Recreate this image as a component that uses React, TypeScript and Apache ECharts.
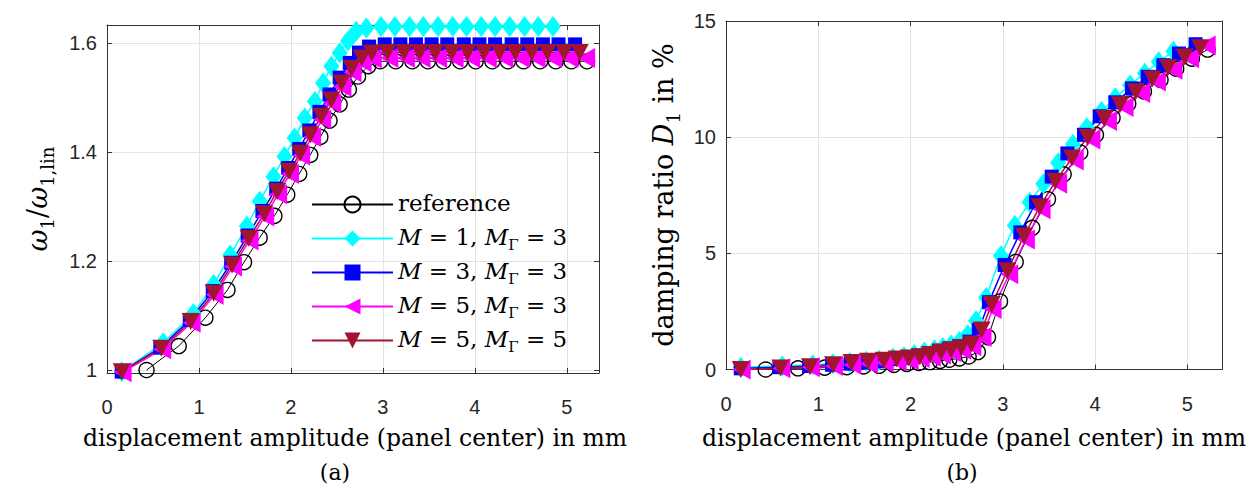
import React, { useEffect, useRef } from 'react';
import * as echarts from 'echarts';

const seriesLabels = ['reference', 'M = 1, MΓ = 3', 'M = 3, MΓ = 3', 'M = 5, MΓ = 3', 'M = 5, MΓ = 5'];
const xTicks = [0, 1, 2, 3, 4, 5];
const freqTicks = [1, 1.2, 1.4, 1.6];
const dampTicks = [0, 5, 10, 15];

const refX = [0.43, 0.78, 1.07, 1.31, 1.49, 1.66, 1.82, 1.96, 2.09, 2.21, 2.32, 2.42, 2.53, 2.63, 2.73, 2.84, 2.97, 3.14, 3.32, 3.49, 3.66, 3.84, 4.01, 4.19, 4.36, 4.53, 4.71, 4.88, 5.05, 5.22];
const refFreq = [1.0, 1.044, 1.096, 1.147, 1.198, 1.243, 1.283, 1.322, 1.36, 1.395, 1.428, 1.458, 1.488, 1.515, 1.539, 1.558, 1.567, 1.567, 1.567, 1.567, 1.567, 1.567, 1.567, 1.567, 1.567, 1.567, 1.567, 1.567, 1.567, 1.567];
const refDamp = [0.0, 0.05, 0.08, 0.1, 0.13, 0.16, 0.2, 0.24, 0.28, 0.32, 0.37, 0.42, 0.48, 0.56, 0.75, 1.39, 2.93, 4.63, 6.1, 7.33, 8.4, 9.34, 10.1, 10.84, 11.44, 11.97, 12.47, 12.95, 13.38, 13.77];

const m1X = [0.16, 0.61, 0.94, 1.16, 1.34, 1.52, 1.66, 1.81, 1.93, 2.04, 2.15, 2.26, 2.35, 2.44, 2.53, 2.62, 2.71, 2.82, 2.98, 3.13, 3.29, 3.44, 3.6, 3.76, 3.91, 4.07, 4.22, 4.38, 4.54, 4.69, 4.85];
const m1Freq = [0.997, 1.05, 1.104, 1.157, 1.211, 1.264, 1.31, 1.355, 1.392, 1.426, 1.463, 1.493, 1.527, 1.558, 1.582, 1.604, 1.622, 1.628, 1.631, 1.631, 1.631, 1.631, 1.631, 1.631, 1.631, 1.631, 1.631, 1.631, 1.631, 1.631, 1.631];
const m1Damp = [0.1, 0.15, 0.2, 0.25, 0.3, 0.35, 0.4, 0.5, 0.55, 0.65, 0.75, 0.85, 0.95, 1.05, 1.2, 1.5, 2.1, 3.1, 4.9, 6.2, 7.2, 8.0, 8.9, 9.7, 10.4, 11.1, 11.7, 12.25, 12.75, 13.25, 13.7];

const m3X = [0.16, 0.58, 0.9, 1.15, 1.35, 1.53, 1.69, 1.84, 1.97, 2.09, 2.2, 2.31, 2.42, 2.53, 2.64, 2.74, 2.85, 3.02, 3.19, 3.36, 3.53, 3.7, 3.88, 4.05, 4.22, 4.4, 4.57, 4.74, 4.91, 5.09];
const m3Freq = [0.997, 1.041, 1.092, 1.145, 1.197, 1.247, 1.292, 1.333, 1.371, 1.406, 1.44, 1.474, 1.506, 1.537, 1.564, 1.583, 1.594, 1.598, 1.598, 1.598, 1.598, 1.598, 1.598, 1.598, 1.598, 1.598, 1.598, 1.598, 1.598, 1.598];
const m3Damp = [0.05, 0.1, 0.15, 0.2, 0.25, 0.3, 0.35, 0.45, 0.5, 0.6, 0.7, 0.8, 0.9, 1.0, 1.2, 1.7, 2.9, 4.5, 5.9, 7.2, 8.3, 9.3, 10.1, 10.9, 11.5, 12.1, 12.6, 13.1, 13.6, 14.0];

const m5aX = [0.17, 0.6, 0.92, 1.17, 1.37, 1.55, 1.72, 1.86, 1.99, 2.11, 2.23, 2.34, 2.45, 2.56, 2.67, 2.78, 2.89, 3.07, 3.25, 3.42, 3.6, 3.78, 3.96, 4.14, 4.32, 4.5, 4.67, 4.85, 5.03, 5.21];
const m5aFreq = [0.996, 1.038, 1.087, 1.138, 1.19, 1.238, 1.282, 1.323, 1.36, 1.394, 1.428, 1.46, 1.49, 1.52, 1.547, 1.565, 1.572, 1.573, 1.573, 1.573, 1.573, 1.573, 1.573, 1.573, 1.573, 1.573, 1.573, 1.573, 1.573, 1.573];
const m5aDamp = [0.0, 0.05, 0.1, 0.15, 0.2, 0.25, 0.3, 0.35, 0.4, 0.5, 0.55, 0.65, 0.75, 0.85, 1.0, 1.4, 2.6, 4.1, 5.6, 6.9, 8.0, 9.0, 9.9, 10.7, 11.3, 11.9, 12.4, 12.9, 13.4, 13.95];

const m5bX = [0.16, 0.59, 0.91, 1.16, 1.36, 1.54, 1.71, 1.85, 1.98, 2.1, 2.21, 2.33, 2.44, 2.55, 2.66, 2.77, 2.88, 3.05, 3.23, 3.4, 3.57, 3.75, 3.92, 4.1, 4.27, 4.44, 4.62, 4.79, 4.97, 5.14];
const m5bFreq = [0.997, 1.04, 1.089, 1.141, 1.193, 1.242, 1.287, 1.328, 1.365, 1.398, 1.432, 1.466, 1.496, 1.527, 1.554, 1.573, 1.582, 1.583, 1.583, 1.583, 1.583, 1.583, 1.583, 1.583, 1.583, 1.583, 1.583, 1.583, 1.583, 1.583];
const m5bDamp = [0.0, 0.06, 0.12, 0.2, 0.3, 0.35, 0.4, 0.45, 0.5, 0.55, 0.65, 0.75, 0.85, 0.95, 1.1, 1.7, 2.8, 4.25, 5.75, 7.0, 8.1, 9.1, 10.0, 10.8, 11.4, 11.95, 12.5, 13.0, 13.45, 13.85];

const allX = [refX, m1X, m3X, m5aX, m5bX];
const allFreq = [refFreq, m1Freq, m3Freq, m5aFreq, m5bFreq];
const allDamp = [refDamp, m1Damp, m3Damp, m5aDamp, m5bDamp];

const SERIF = '"DejaVu Serif", serif';
const SANS = '"Liberation Sans", Arial, sans-serif';
const AX = '#333333';
const GRIDC = '#e3e3e3';

const looks = [
  { color: '#000000', symbol: 'circle', size: 15, rotate: 0, fill: 'rgba(0,0,0,0)', border: 1.4, lw: 1 },
  { color: '#00ffff', symbol: 'diamond', size: [16, 21], rotate: 0, fill: '#00ffff', border: 0, lw: 1.5 },
  { color: '#0000ff', symbol: 'rect', size: 14, rotate: 0, fill: '#0000ff', border: 0, lw: 1.5 },
  { color: '#ff00ff', symbol: 'triangle', size: [20, 18], rotate: 90, fill: '#ff00ff', border: 0, lw: 1.5 },
  { color: '#a2142f', symbol: 'triangle', size: [18, 17], rotate: 180, fill: '#a2142f', border: 0, lw: 1.5 },
];

const richStyles = {
  i: { fontFamily: SERIF, fontStyle: 'italic', fontSize: 23, lineHeight: 27, verticalAlign: 'top', color: '#000' },
  n: { fontFamily: SERIF, fontSize: 23, lineHeight: 27, verticalAlign: 'top', color: '#000' },
  s: { fontFamily: SERIF, fontSize: 15, lineHeight: 15, verticalAlign: 'bottom', color: '#000' },
};

const titleRich = {
  i: { fontFamily: SERIF, fontStyle: 'italic', fontSize: 27, lineHeight: 32, verticalAlign: 'top', color: '#000' },
  n: { fontFamily: SERIF, fontSize: 27, lineHeight: 32, verticalAlign: 'top', color: '#000' },
  s: { fontFamily: SERIF, fontSize: 18, lineHeight: 18, verticalAlign: 'bottom', color: '#000' },
};

function legendRich(name: string) {
  if (name === 'reference') return '{n|reference}';
  const m = name.match(/M = (\d), MΓ = (\d)/);
  if (!m) return name;
  return `{i|M}{n| = ${m[1]}, }{i|M}{s|Γ}{n| = ${m[2]}}`;
}

function makeAxes(gi: number, xmax: number, ymin: number, ymax: number, step: number, yticks: number[], fmtY: (v: number) => string) {
  const isTick = (v: number, arr: number[]) => arr.some((t) => Math.abs(t - v) < 1e-6);
  const base = {
    gridIndex: gi,
    type: 'value' as const,
    axisLine: { show: true, onZero: false, lineStyle: { color: AX, width: 1 } },
    axisTick: { show: true, inside: true, length: 5, lineStyle: { color: AX } },
  };
  const x = [
    {
      ...base,
      position: 'bottom',
      min: 0,
      max: xmax,
      minInterval: 1,
      maxInterval: 1,
      axisLabel: {
        show: true,
        margin: 24,
        fontFamily: SANS,
        fontSize: 20,
        color: '#262626',
        formatter: (v: number) => (isTick(v, xTicks) ? String(Math.round(v)) : ''),
      },
      splitLine: { show: true, lineStyle: { color: GRIDC, width: 1 } },
    },
    {
      ...base,
      position: 'top',
      min: 0,
      max: xmax,
      minInterval: 1,
      maxInterval: 1,
      axisLabel: { show: false },
      splitLine: { show: false },
    },
  ];
  const y = [
    {
      ...base,
      position: 'left',
      min: ymin,
      max: ymax,
      minInterval: step,
      maxInterval: step,
      axisLabel: {
        show: true,
        margin: 10,
        fontFamily: SANS,
        fontSize: 20,
        color: '#262626',
        formatter: (v: number) => (isTick(v, yticks) ? fmtY(v) : ''),
      },
      splitLine: { show: true, lineStyle: { color: GRIDC, width: 1 } },
    },
    {
      ...base,
      position: 'right',
      min: ymin,
      max: ymax,
      minInterval: step,
      maxInterval: step,
      axisLabel: { show: false },
      splitLine: { show: false },
    },
  ];
  return { x, y };
}

export default function App() {
  const ref = useRef<HTMLDivElement>(null);
  useEffect(() => {
    if (!ref.current) return;
    const chart = echarts.init(ref.current, null, { renderer: 'svg' });

    const a = makeAxes(0, 5.35, 0.9945, 1.6336, 0.2, freqTicks, (v) => (Math.abs(v - 1) < 1e-6 ? '1' : v.toFixed(1)));
    const b = makeAxes(1, 5.376, 0, 15, 5, dampTicks, (v) => String(Math.round(v)));

    const series: any[] = [];
    [0, 1].forEach((gi) => {
      const ys = gi === 0 ? allFreq : allDamp;
      seriesLabels.forEach((name, k) => {
        const lk = looks[k];
        series.push({
          type: 'line',
          name,
          xAxisIndex: gi * 2,
          yAxisIndex: gi * 2,
          data: allX[k].map((x, j) => [x, ys[k][j]]),
          symbol: lk.symbol,
          symbolSize: lk.size,
          symbolRotate: lk.rotate,
          showAllSymbol: true,
          clip: false,
          lineStyle: { color: lk.color, width: lk.lw },
          itemStyle: { color: lk.fill, borderColor: lk.color, borderWidth: lk.border, opacity: 1 },
          emphasis: { disabled: true },
          z: 2,
        });
      });
    });

    const xlabStyle = { text: 'displacement amplitude (panel center) in mm', fontFamily: SERIF, fontSize: 23.5, fill: '#000', align: 'center', verticalAlign: 'middle' };

    chart.setOption({
      animation: false,
      backgroundColor: '#ffffff',
      grid: [
        { left: 107, top: 25, width: 492, height: 348, containLabel: false },
        { left: 726, top: 21, width: 496, height: 348.5, containLabel: false },
      ],
      xAxis: [...a.x, ...b.x],
      yAxis: [...a.y, ...b.y],
      legend: {
        show: true,
        orient: 'vertical',
        left: 311,
        top: 191,
        padding: 0,
        itemWidth: 81,
        itemHeight: 20,
        itemGap: 7,
        selectedMode: false,
        data: seriesLabels,
        formatter: (name: string) => legendRich(name),
        textStyle: { fontFamily: SERIF, fontSize: 23, lineHeight: 27, color: '#000', rich: richStyles },
      },
      graphic: [
        { type: 'text', x: 355, y: 438, style: { ...xlabStyle } },
        { type: 'text', x: 974, y: 438, style: { ...xlabStyle } },
        {
          type: 'text',
          x: 335,
          y: 472,
          style: { text: '(a)', fontFamily: SERIF, fontSize: 22, fill: '#000', align: 'center', verticalAlign: 'middle' },
        },
        {
          type: 'text',
          x: 962,
          y: 472,
          style: { text: '(b)', fontFamily: SERIF, fontSize: 22, fill: '#000', align: 'center', verticalAlign: 'middle' },
        },
        {
          type: 'text',
          x: 40,
          y: 199,
          rotation: Math.PI / 2,
          style: {
            text: '{i|ω}{s|1}{n|/}{i|ω}{s|1,lin}',
            rich: titleRich,
            align: 'center',
            verticalAlign: 'middle',
          },
        },
        {
          type: 'text',
          x: 666,
          y: 195,
          rotation: Math.PI / 2,
          style: {
            text: '{n|damping ratio }{i|D}{s|1}{n| in %}',
            rich: titleRich,
            align: 'center',
            verticalAlign: 'middle',
          },
        },
      ],
      series,
    });
    return () => chart.dispose();
  }, []);
  return <div ref={ref} style={{ position: 'absolute', left: 0, top: 0, width: 1249, height: 488 }} />;
}
